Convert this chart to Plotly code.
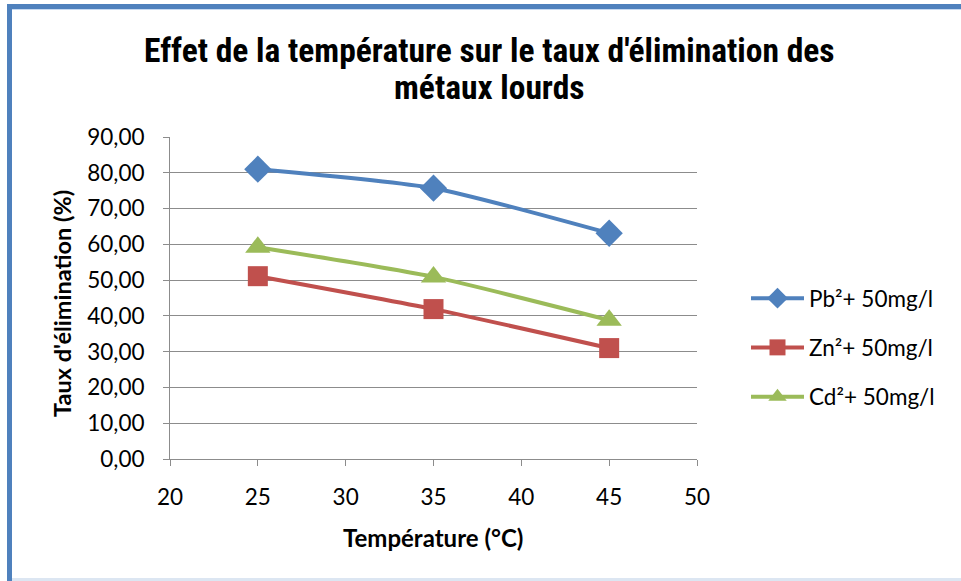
import plotly.graph_objects as go

# Data
temperature = [25, 35, 45]
pb_removal = [81.0, 75.7, 63.1]
zn_removal = [51.1, 41.9, 31.0]
cd_removal = [59.2, 50.9, 38.8]
series_names = ["Pb²+ 50mg/l", "Zn²+ 50mg/l", "Cd²+ 50mg/l"]
x_ticks = [20, 25, 30, 35, 40, 45, 50]
y_ticks = [0, 10, 20, 30, 40, 50, 60, 70, 80, 90]

TITLE_FONT = "Liberation Sans Narrow, Roboto Condensed, Arial Narrow, Liberation Sans, sans-serif"
FONT = "Lato, Open Sans, sans-serif"
GRID = "#8c8c8c"

W, H = 961, 581
L, R, T, B = 170, 264, 137, 122
PW, PH = W - L - R, H - T - B


def px_x(p):
    return (p - L) / PW


def px_y(p):
    return (H - B - p) / PH


fig = go.Figure()
styles = [
    ("#4F81BD", "diamond", 21, pb_removal),
    ("#C0504D", "square", 20, zn_removal),
    ("#9BBB59", "triangle-up", 22, cd_removal),
]
for i, (name, (color, symbol, size, values)) in enumerate(zip(series_names, styles)):
    fig.add_trace(go.Scatter(
        x=temperature, y=values, name=name, mode="lines+markers",
        legendgroup=f"g{i}",
        line=dict(color=color, width=4, shape="spline", smoothing=0.6),
        marker=dict(symbol=symbol, size=size, color=color),
    ))

title_lines = [
    ("Effet de la température sur le taux d'élimination des", 50),
    ("métaux lourds", 87),
]
annotations = [
    dict(text=f"<b>{txt}</b>", xref="paper", yref="paper",
         x=px_x(489), y=px_y(yc), xanchor="center", yanchor="middle",
         showarrow=False, font=dict(family=TITLE_FONT, size=33.5, color="#000"))
    for txt, yc in title_lines
]
annotations += [
    dict(text="<b>Température (°C)</b>", xref="paper", yref="paper",
         x=px_x(433), y=px_y(537), xanchor="center", yanchor="middle",
         showarrow=False, font=dict(family=FONT, size=24, color="#000")),
    dict(text="<b>Taux d'élimination (%)</b>", xref="paper", yref="paper",
         x=px_x(62), y=px_y(304), xanchor="center", yanchor="middle",
         textangle=-90, showarrow=False,
         font=dict(family=FONT, size=23.5, color="#000")),
]

fig.update_layout(
    width=W, height=H,
    margin=dict(l=L, r=R, t=T, b=B),
    paper_bgcolor="white", plot_bgcolor="white",
    separators=", ",
    font=dict(family=FONT, size=22, color="#000000"),
    annotations=annotations,
    xaxis=dict(
        range=[20, 50], tickvals=x_ticks, showgrid=False,
        showline=True, linecolor=GRID, linewidth=1,
        ticks="outside", ticklen=6, tickcolor=GRID,
        tickfont=dict(size=22.5), zeroline=False, automargin=False,
        ticklabelstandoff=12,
    ),
    yaxis=dict(
        range=[0, 90], tickvals=y_ticks, tickformat=".2f",
        showgrid=True, gridcolor=GRID, gridwidth=1,
        showline=True, linecolor=GRID, linewidth=1,
        ticks="outside", ticklen=6, tickcolor=GRID,
        tickfont=dict(size=22.5), zeroline=False, automargin=False,
        ticklabelstandoff=14,
    ),
    legend=dict(
        x=px_x(746), y=px_y(277), xanchor="left", yanchor="top",
        font=dict(size=22.5), traceorder="grouped", tracegroupgap=17,
        itemwidth=53, bgcolor="rgba(0,0,0,0)",
    ),
    shapes=[
        dict(type="rect", xref="paper", yref="paper",
             x0=px_x(7), x1=px_x(12), y0=px_y(581), y1=px_y(4),
             fillcolor="#4F81BD", line=dict(width=0), layer="above"),
        dict(type="rect", xref="paper", yref="paper",
             x0=px_x(7), x1=px_x(961), y0=px_y(9), y1=px_y(4),
             fillcolor="#4F81BD", line=dict(width=0), layer="above"),
        dict(type="rect", xref="paper", yref="paper",
             x0=px_x(12), x1=px_x(961), y0=px_y(10), y1=px_y(9),
             fillcolor="#C6D9F1", line=dict(width=0), layer="above"),
        dict(type="rect", xref="paper", yref="paper",
             x0=px_x(12), x1=px_x(961), y0=px_y(581), y1=px_y(578),
             fillcolor="#DCE6F2", line=dict(width=0), layer="above"),
    ],
)

fig.write_html("out.html")
